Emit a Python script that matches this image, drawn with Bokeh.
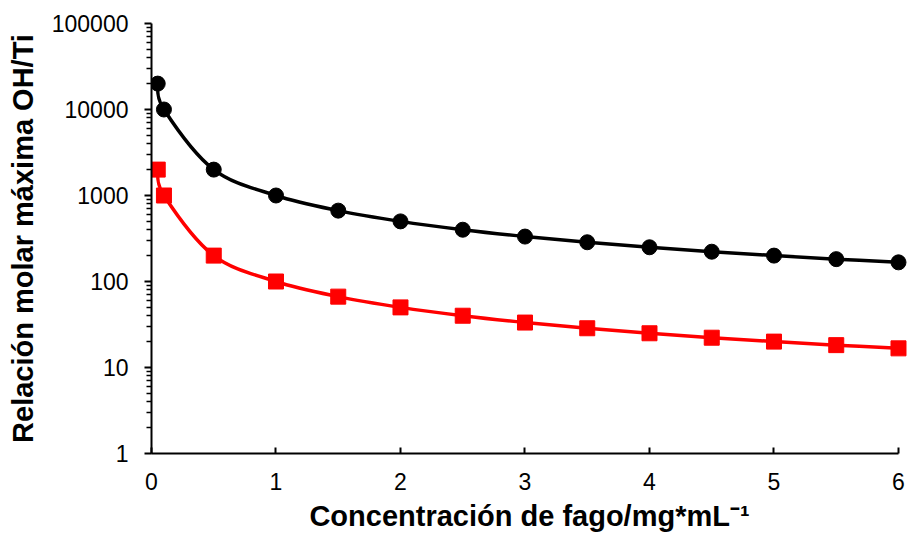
import math
from bokeh.plotting import figure
from bokeh.models import FixedTicker, PrintfTickFormatter
from bokeh.embed import file_html
from bokeh.resources import INLINE

# ---- data ----
conc = [0.05, 0.1, 0.5, 1.0, 1.5, 2.0, 2.5, 3.0, 3.5, 4.0, 4.5, 5.0, 5.5, 6.0]
black_vals = [20000, 10000, 2000, 1000, 667, 500, 400, 333, 286, 250, 222, 200, 182, 167]
red_vals = [2000, 1000, 200, 100, 66.7, 50, 40, 33.3, 28.6, 25, 22.2, 20, 18.2, 16.7]
x_ticks = [0, 1, 2, 3, 4, 5, 6]
y_ticks = [1, 10, 100, 1000, 10000, 100000]
x_title = "Concentración de fago/mg*mL\u207b\u00b9"
y_title = "Relación molar máxima OH/Ti"

FONT = "Liberation Sans"
X_END = 6.0723  # small room so the last markers are not clipped

p = figure(frame_width=756, frame_height=430,
           min_border_left=151, min_border_right=0, min_border_top=23, min_border_bottom=85,
           x_range=(0, X_END), y_range=(1, 100000), y_axis_type="log",
           output_backend="svg", toolbar_location=None)
p.outline_line_color = None
p.xgrid.visible = False
p.ygrid.visible = False
p.background_fill_color = "white"
p.border_fill_color = "white"


def smooth(xs, ys):
    ly = [math.log10(v) for v in ys]
    n = len(xs)
    out = dict(x0=[], y0=[], x1=[], y1=[], cx0=[], cy0=[], cx1=[], cy1=[])
    for i in range(n - 1):
        a = i - 1 if i > 0 else i
        b = i + 2 if i + 2 < n else i + 1
        out["x0"].append(xs[i]); out["y0"].append(ys[i])
        out["x1"].append(xs[i + 1]); out["y1"].append(ys[i + 1])
        out["cx0"].append(xs[i] + (xs[i + 1] - xs[a]) / 6)
        out["cy0"].append(10 ** (ly[i] + (ly[i + 1] - ly[a]) / 6))
        out["cx1"].append(xs[i + 1] - (xs[b] - xs[i]) / 6)
        out["cy1"].append(10 ** (ly[i + 1] - (ly[b] - ly[i]) / 6))
    return out


for vals, col, mk in [(black_vals, "black", "circle"), (red_vals, "#ff0000", "square")]:
    s = smooth(conc, vals)
    p.bezier(line_color=col, line_width=3.5, **s)
    p.scatter(conc, vals, marker=mk, size=15, fill_color=col, line_color=col)

# x axis
xa = p.xaxis[0]
xa.bounds = (0, 6)
xa.ticker = FixedTicker(ticks=x_ticks)
xa.minor_tick_line_color = None
xa.major_tick_in = 6
xa.major_tick_out = 0
xa.axis_line_width = 2
xa.major_tick_line_width = 2
xa.axis_line_color = "black"
xa.major_tick_line_color = "black"
xa.major_label_text_font = FONT
xa.major_label_text_font_size = "23px"
xa.major_label_text_color = "black"
xa.major_label_standoff = 19
xa.axis_label = x_title
xa.axis_label_text_font = FONT
xa.axis_label_text_font_size = "29px"
xa.axis_label_text_font_style = "bold"
xa.axis_label_text_color = "black"
xa.axis_label_standoff = 7

# y axis
minor = [m * d for d in [1, 10, 100, 1000, 10000] for m in range(2, 10)]
ya = p.yaxis[0]
ya.ticker = FixedTicker(ticks=y_ticks, minor_ticks=minor)
ya.formatter = PrintfTickFormatter(format="%d")
ya.major_tick_in = 0
ya.major_tick_out = 7
ya.minor_tick_in = 0
ya.minor_tick_out = 5
ya.axis_line_width = 2
ya.major_tick_line_width = 2
ya.minor_tick_line_width = 1.5
ya.axis_line_color = "black"
ya.major_tick_line_color = "black"
ya.minor_tick_line_color = "black"
ya.major_label_text_font = FONT
ya.major_label_text_font_size = "23px"
ya.major_label_text_color = "black"
ya.major_label_standoff = 16
ya.axis_label = y_title
ya.axis_label_text_font = FONT
ya.axis_label_text_font_size = "29px"
ya.axis_label_text_font_style = "bold"
ya.axis_label_text_color = "black"
ya.axis_label_standoff = 10

open("out.html", "w").write(file_html(p, INLINE))
